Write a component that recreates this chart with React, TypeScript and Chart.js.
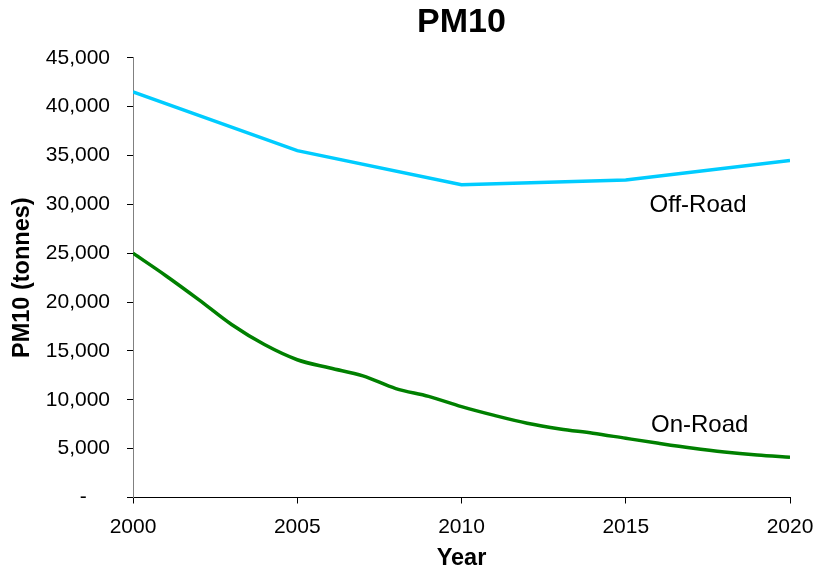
import React, { useEffect, useRef } from "react";
import { Chart, registerables } from "chart.js";

Chart.register(...registerables);

const offRoadYears = [2000, 2005, 2010, 2015, 2020];
const offRoadValues = [41500, 35500, 32000, 32500, 34500];

const onRoadYears = [2000, 2001, 2002, 2003, 2004, 2005, 2006, 2007, 2008, 2009, 2010, 2011, 2012, 2013, 2014, 2015, 2016, 2017, 2018, 2019, 2020];
const onRoadValues = [25000, 22700, 20250, 17700, 15650, 14100, 13250, 12450, 11150, 10350, 9300, 8400, 7600, 7020, 6580, 6060, 5550, 5070, 4660, 4350, 4120];

const seriesNames = ["Off-Road", "On-Road"];
const seriesLabelYears = [2017.2, 2017.25];
const seriesLabelValues = [29850, 7430];

const titleText = "PM10";
const yAxisTitle = "PM10 (tonnes)";
const xAxisTitle = "Year";

const FONT = "'Liberation Sans', Arial, Helvetica, sans-serif";

export default function App() {
  const canvasRef = useRef<HTMLCanvasElement | null>(null);

  useEffect(() => {
    const canvas = canvasRef.current;
    if (!canvas) return;

    const seriesLabelPlugin = {
      id: "seriesLabels",
      afterDatasetsDraw(chart: any) {
        const { ctx, scales } = chart;
        ctx.save();
        ctx.font = `24px ${FONT}`;
        ctx.fillStyle = "#000";
        ctx.textAlign = "center";
        ctx.textBaseline = "middle";
        seriesNames.forEach((name, i) => {
          const x = scales.x.getPixelForValue(seriesLabelYears[i]);
          const y = scales.y.getPixelForValue(seriesLabelValues[i]);
          ctx.fillText(name, x, y);
        });
        ctx.restore();
      },
    };

    const chart = new Chart(canvas, {
      type: "line",
      data: {
        datasets: [
          {
            label: seriesNames[0],
            data: offRoadYears.map((yr, i) => ({ x: yr, y: offRoadValues[i] })),
            borderColor: "#00CCFF",
            backgroundColor: "#00CCFF",
            borderWidth: 3.5,
            pointRadius: 0,
            tension: 0,
          },
          {
            label: seriesNames[1],
            data: onRoadYears.map((yr, i) => ({ x: yr, y: onRoadValues[i] })),
            borderColor: "#008000",
            backgroundColor: "#008000",
            borderWidth: 3.5,
            pointRadius: 0,
            cubicInterpolationMode: "monotone",
          },
        ],
      },
      options: {
        responsive: false,
        animation: false,
        layout: { padding: { left: 0, right: 25, top: 0, bottom: 0 } },
        plugins: {
          legend: { display: false },
          tooltip: { enabled: false },
          title: {
            display: true,
            text: titleText,
            fullSize: false,
            color: "#000",
            font: { family: FONT, size: 34, weight: "bold" },
            padding: { top: 2, bottom: 15 },
          },
        },
        scales: {
          x: {
            type: "linear",
            min: 2000,
            max: 2020,
            border: { display: true, color: "#000", width: 1 },
            grid: { drawOnChartArea: false, drawTicks: true, tickLength: 6, color: "#000" },
            ticks: {
              stepSize: 5,
              padding: 11,
              color: "#000",
              font: { family: FONT, size: 21 },
              maxRotation: 0,
              callback: (v: any) => String(v),
            },
            title: {
              display: true,
              text: xAxisTitle,
              color: "#000",
              font: { family: FONT, size: 23.5, weight: "bold" },
              padding: { top: 4, bottom: 0 },
            },
            afterFit: (scale: any) => {
              scale.height = 75.5;
              scale.paddingRight = 20;
            },
          },
          y: {
            min: 0,
            max: 45000,
            border: { display: true, color: "#808080", width: 1 },
            grid: { drawOnChartArea: false, drawTicks: true, tickLength: 6, color: "#000" },
            ticks: {
              stepSize: 5000,
              padding: 17,
              color: "#000",
              font: { family: FONT, size: 21 },
              callback: (v: any) =>
                Number(v) === 0 ? "-\u2007\u2007" : Number(v).toLocaleString("en-US"),
            },
            title: {
              display: true,
              text: yAxisTitle,
              color: "#000",
              font: { family: FONT, size: 23.5, weight: "bold" },
              padding: { top: 8, bottom: 10 },
            },
            afterFit: (scale: any) => {
              scale.width = 133;
            },
          },
        },
      },
      plugins: [seriesLabelPlugin],
    } as any);

    return () => chart.destroy();
  }, []);

  return (
    <div style={{ position: "fixed", left: 0, top: 0, width: 815, height: 573, background: "#fff" }}>
      <canvas ref={canvasRef} width={815} height={573} style={{ display: "block" }} />
    </div>
  );
}
